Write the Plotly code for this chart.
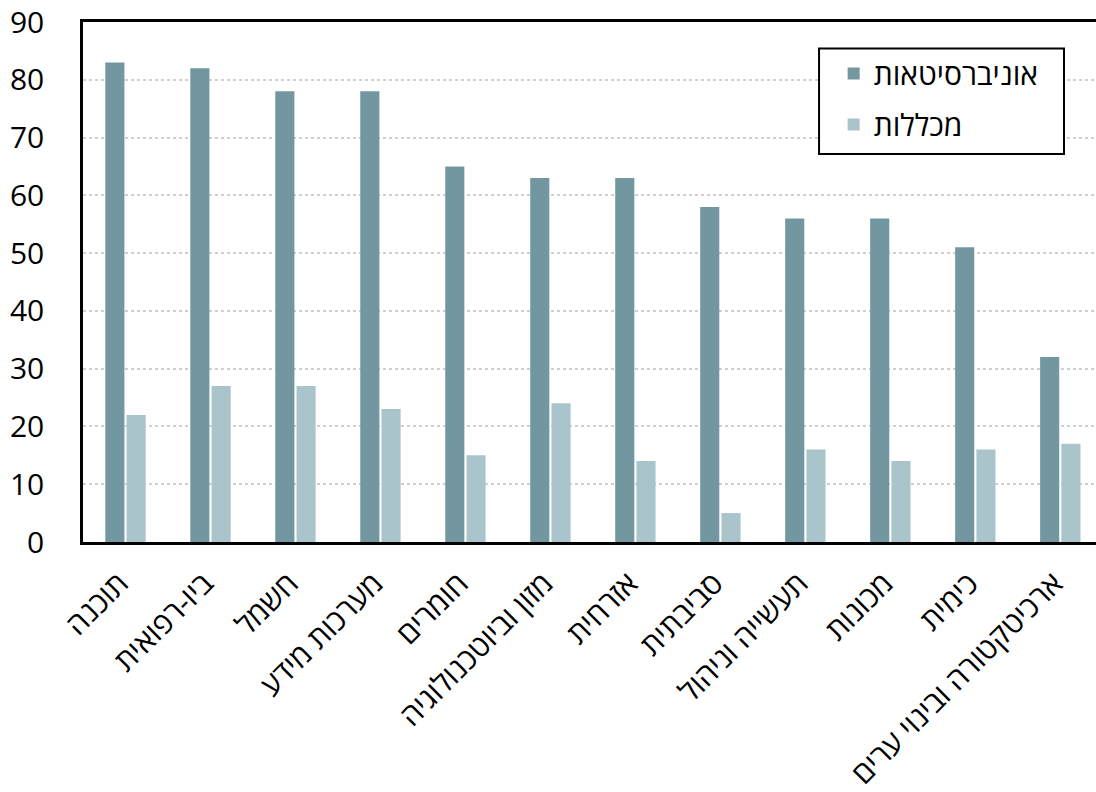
import plotly.graph_objects as go

# Engineering fields (Hebrew labels)
fields = [
    "תוכנה",
    "ביו-רפואית",
    "חשמל",
    "מערכות מידע",
    "חומרים",
    "מזון וביוטכנולוגיה",
    "אזרחית",
    "סביבתית",
    "תעשייה וניהול",
    "מכונות",
    "כימית",
    "ארכיטקטורה ובינוי ערים",
]

universities = [83, 82, 78, 78, 65, 63, 63, 58, 56, 56, 51, 32]
colleges = [22, 27, 27, 23, 15, 24, 14, 5, 16, 14, 16, 17]

series_names = ["אוניברסיטאות", "מכללות"]
series_colors = ["#7297A0", "#AAC4CC"]

y_ticks = list(range(0, 100, 10))

FONT = "Open Sans, DejaVu Sans, sans-serif"

fig = go.Figure()
for name, vals, col, grp in zip(series_names, [universities, colleges], series_colors, ["u", "c"]):
    fig.add_trace(go.Bar(
        x=fields,
        y=vals,
        name=name,
        legendgroup=grp,
        marker=dict(color=col, line=dict(width=0)),
    ))

# framed box behind the legend entries
fig.add_shape(
    type="rect", xref="paper", yref="paper",
    x0=0.7266, x1=0.9684, y0=0.746, y1=0.949,
    line=dict(color="#000000", width=2),
    fillcolor="white", layer="above",
)

fig.update_layout(
    width=1096,
    height=792,
    autosize=False,
    margin=dict(l=83, r=0, t=22, b=248),
    paper_bgcolor="white",
    plot_bgcolor="white",
    barmode="group",
    bargap=0.5,
    bargroupgap=0.1,
    font=dict(family=FONT, color="#000000"),
    legend=dict(
        x=0.741, y=0.951, xanchor="left", yanchor="top",
        borderwidth=0,
        bgcolor="rgba(0,0,0,0)",
        font=dict(size=30, family=FONT),
        tracegroupgap=9,
        traceorder="grouped",
    ),
    xaxis=dict(
        range=[-0.5, 11.42],
        tickangle=-45,
        tickfont=dict(size=30, family=FONT),
        showline=True, linecolor="#000000", linewidth=2.5,
        mirror=True,
        ticks="",
        showgrid=False,
        ticklabelshift=-6,
        ticklabelstandoff=9,
    ),
    yaxis=dict(
        range=[0, 90],
        tickvals=y_ticks,
        tickfont=dict(size=30, family=FONT),
        showline=True, linecolor="#000000", linewidth=2.5,
        mirror=False,
        showgrid=True, gridcolor="#CFCFCF", gridwidth=1.5, griddash="dot",
        ticks="",
        ticklabelstandoff=30,
        zeroline=False,
    ),
)

fig.write_html("out.html")
